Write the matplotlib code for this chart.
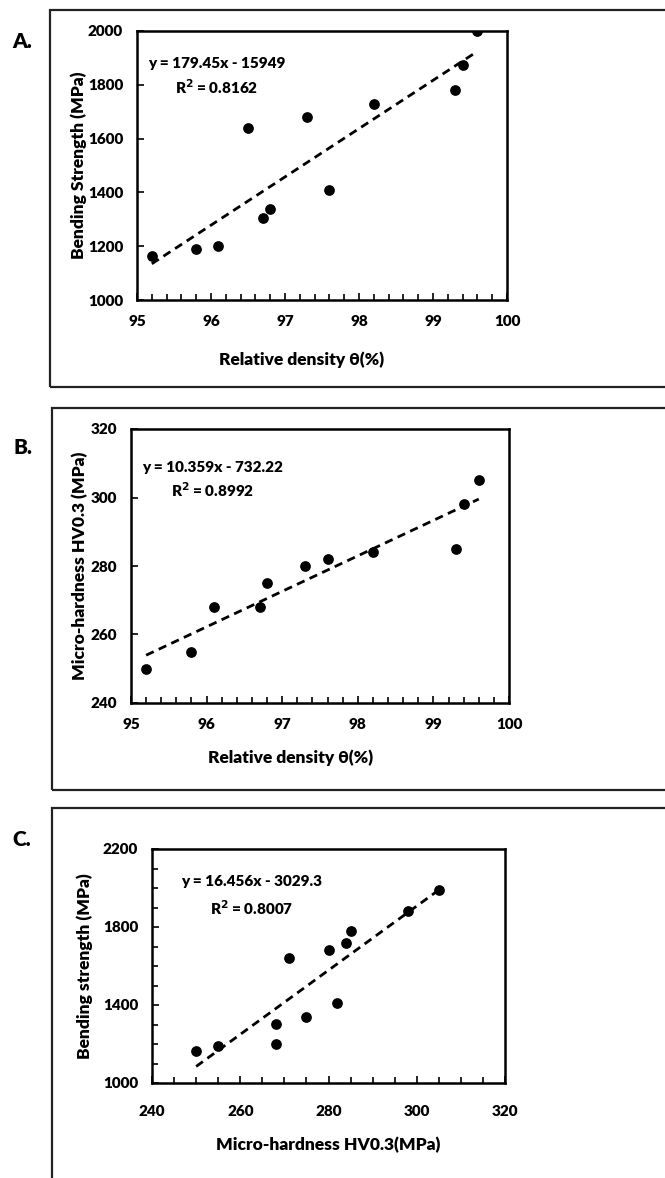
import matplotlib.pyplot as plt
from matplotlib.patches import Rectangle
from matplotlib.ticker import MultipleLocator

plt.rcParams['font.family'] = ['Lato', 'DejaVu Sans']
W8 = 'heavy'

# panel A: relative density vs bending strength
dens_a = [95.2, 95.8, 96.1, 96.5, 96.7, 96.8, 97.3, 97.6, 98.2, 99.3, 99.4, 99.6]
bend_a = [1165, 1190, 1200, 1640, 1305, 1340, 1680, 1410, 1730, 1780, 1875, 2000]

# panel B: relative density vs micro-hardness
dens_b = [95.2, 95.8, 96.1, 96.7, 96.8, 97.3, 97.6, 98.2, 99.3, 99.4, 99.6]
hard_b = [250, 255, 268, 268, 275, 280, 282, 284, 285, 298, 305]

# panel C: micro-hardness vs bending strength
hard_c = [250, 255, 268, 268, 271, 275, 280, 282, 284, 285, 298, 305]
bend_c = [1165, 1190, 1305, 1200, 1640, 1340, 1680, 1410, 1720, 1780, 1880, 1990]

fits = [(179.45, -15949, 0.8162), (10.359, -732.22, 0.8992), (16.456, -3029.3, 0.8007)]

W, H = 665, 1178
fig = plt.figure(figsize=(W / 100, H / 100), dpi=100)


def px(x, y):
    return x / W, 1 - y / H


def axes_px(l, t, r, b):
    return fig.add_axes([l / W, 1 - b / H, (r - l) / W, (b - t) / H])


# outer frames
for (x0, y0, x1, y1) in [(50, 10, 680, 387), (52, 408, 680, 790), (52, 808, 680, 1190)]:
    fig.patches.append(Rectangle(px(x0, y1), (x1 - x0) / W, (y1 - y0) / H,
                                 transform=fig.transFigure, fill=False,
                                 edgecolor='#222222', linewidth=1.6))

panels = [
    dict(box=(137, 31, 507, 300), x=dens_a, y=bend_a, fit=fits[0],
         xlim=(95, 100), ylim=(1000, 2000), xmaj=1, xmin=0.2,
         yticks=[1000, 1200, 1400, 1600, 1800, 2000], ymin=None,
         xlab='Relative density θ(%)', ylab='Bending Strength (MPa)',
         xlab_pos=(302, 360), ylab_x=79, eq=(217, 63, 87), letter=('A.', 22, 42), xpad=11),
    dict(box=(131, 429, 509, 703), x=dens_b, y=hard_b, fit=fits[1],
         xlim=(95, 100), ylim=(240, 320), xmaj=1, xmin=0.2,
         yticks=[240, 260, 280, 300, 320], ymin=None,
         xlab='Relative density θ(%)', ylab='Micro-hardness HV0.3 (MPa)',
         xlab_pos=(291, 758), ylab_x=80, eq=(213, 467, 490), letter=('B.', 23, 448), xpad=11),
    dict(box=(152, 849, 505, 1083), x=hard_c, y=bend_c, fit=fits[2],
         xlim=(240, 320), ylim=(1000, 2200), xmaj=20, xmin=5,
         yticks=[1000, 1400, 1800, 2200], ymin=100,
         xlab='Micro-hardness HV0.3(MPa)', ylab='Bending strength (MPa)',
         xlab_pos=(328, 1145), ylab_x=85, eq=(252, 882, 908), letter=('C.', 22, 840), xpad=16),
]

for p in panels:
    ax = axes_px(*p['box'])
    l, t, r, b = p['box']
    ax.scatter(p['x'], p['y'], s=45, color='black', zorder=3)
    m, c, r2 = p['fit']
    xs = [min(p['x']), max(p['x'])]
    ax.plot(xs, [m * v + c for v in xs], color='black', linestyle=(0, (3, 2)), linewidth=2)
    ax.set_xlim(*p['xlim'])
    ax.set_ylim(*p['ylim'])
    ax.xaxis.set_major_locator(MultipleLocator(p['xmaj']))
    ax.xaxis.set_minor_locator(MultipleLocator(p['xmin']))
    ax.set_yticks(p['yticks'])
    if p['ymin']:
        ax.yaxis.set_minor_locator(MultipleLocator(p['ymin']))
    ax.tick_params(which='both', direction='in', width=1.2, labelsize=11)
    ax.tick_params(which='major', length=5)
    ax.tick_params(which='minor', length=4)
    ax.tick_params(axis='x', pad=p['xpad'])
    ax.tick_params(axis='y', pad=10)
    for lab in ax.get_xticklabels() + ax.get_yticklabels():
        lab.set_fontweight(W8)
    for s in ax.spines.values():
        s.set_linewidth(1.8)
    ax.set_xlabel(p['xlab'], fontsize=12.5, fontweight=W8)
    ax.set_ylabel(p['ylab'], fontsize=12.5, fontweight=W8)
    lx, ly = p['xlab_pos']
    ax.xaxis.set_label_coords((lx - l) / (r - l), -(ly - b) / (b - t))
    ax.xaxis.label.set_va('center')
    ax.yaxis.set_label_coords((p['ylab_x'] - l) / (r - l), 0.5)
    ax.yaxis.label.set_va('center')

    ex, ey1, ey2 = p['eq']
    sign = '-' if c < 0 else '+'
    fig.text(*px(ex, ey1), f'y = {m}x {sign} {abs(c):g}', ha='center', va='center',
             fontsize=11, fontweight=W8)
    fig.text(*px(ex, ey2), f'R$^\\mathbf{{2}}$ = {r2:.4f}', ha='center', va='center',
             fontsize=11, fontweight=W8)
    let, tx, ty = p['letter']
    fig.text(*px(tx, ty), let, ha='center', va='center', fontsize=15, fontweight=W8)

fig.savefig('out.png', dpi=100)
